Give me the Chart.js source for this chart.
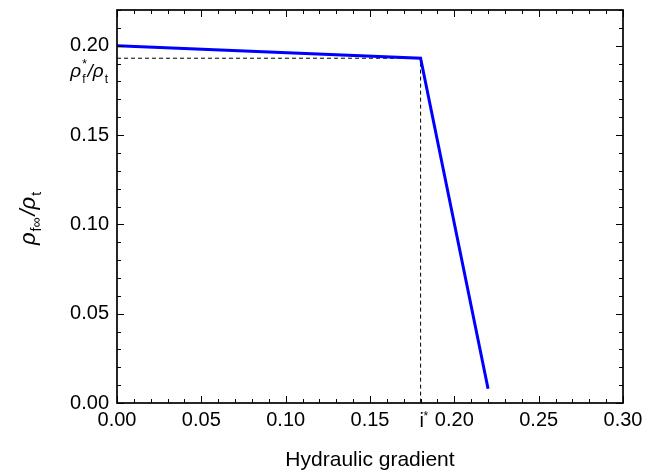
<!DOCTYPE html>
<html>
<head>
<meta charset="utf-8">
<script src="https://cdn.jsdelivr.net/npm/chart.js@4.4.0/dist/chart.umd.min.js"></script>
<style>
  html, body { margin: 0; padding: 0; background: #fff; }
  #wrap { width: 653px; height: 471px; }
</style>
</head>
<body>
<div id="wrap"><canvas id="chart" width="653" height="471"></canvas></div>
<script>
// rho_f_inf / rho_t against hydraulic gradient
const gradient = [0.00, 0.18, 0.22];
const ratio = [0.200, 0.193, 0.008];

// critical point: i* and rho_f* / rho_t
const iStar = 0.18;
const ratioStar = 0.193;

const xTicks = [0.00, 0.05, 0.10, 0.15, 0.20, 0.25, 0.30];
const yTicks = [0.00, 0.05, 0.10, 0.15, 0.20];
const xRange = [0, 0.30];
const yRange = [0, 0.22];
const minorStep = 0.01;

const FONT = "'Liberation Sans', Arial, Helvetica, sans-serif";

// pieces of text with sub/superscripts; "over" pieces sit on top of the previous one
function setFont(ctx, p) {
    ctx.font = (p.italic ? 'italic ' : '') + p.size + 'px ' + FONT;
}

function richWidth(ctx, parts) {
    let w = 0;
    parts.forEach(p => {
        if (p.over) return;
        setFont(ctx, p);
        w += ctx.measureText(p.t).width + (p.gap || 0);
    });
    return w;
}

function drawRich(ctx, parts, x, y) {
    ctx.textAlign = 'left';
    ctx.textBaseline = 'alphabetic';
    let lastX = x;
    parts.forEach(p => {
        setFont(ctx, p);
        if (p.over) {
            ctx.fillText(p.t, lastX + (p.dx || 0), y + (p.dy || 0));
            return;
        }
        ctx.fillText(p.t, x + (p.dx || 0), y + (p.dy || 0));
        lastX = x;
        x += ctx.measureText(p.t).width + (p.gap || 0);
    });
}

const framePlugin = {
    id: 'frame',
    afterDraw(chart) {
        const ctx = chart.ctx;
        const { left, right, top, bottom } = chart.chartArea;
        const xs = chart.scales.x;
        const ys = chart.scales.y;
        ctx.save();
        ctx.strokeStyle = '#000';
        ctx.fillStyle = '#000';

        // tick marks, inward, on all four sides
        ctx.lineWidth = 1;
        ctx.beginPath();
        const nx = Math.round((xRange[1] - xRange[0]) / minorStep);
        for (let k = 0; k <= nx; k++) {
            const len = k % 5 === 0 ? 7 : 4;
            const px = Math.round(xs.getPixelForValue(xRange[0] + k * minorStep)) + 0.5;
            ctx.moveTo(px, bottom); ctx.lineTo(px, bottom - len);
            ctx.moveTo(px, top); ctx.lineTo(px, top + len);
        }
        const ny = Math.round((yRange[1] - yRange[0]) / minorStep);
        for (let k = 0; k <= ny; k++) {
            const len = k % 5 === 0 ? 7 : 4;
            const py = Math.round(ys.getPixelForValue(yRange[0] + k * minorStep)) + 0.5;
            ctx.moveTo(left, py); ctx.lineTo(left + len, py);
            ctx.moveTo(right, py); ctx.lineTo(right - len, py);
        }
        ctx.stroke();

        // frame
        ctx.lineWidth = 1.7;
        ctx.strokeRect(left, top, right - left, bottom - top);

        // i* under the x axis
        const ix = xs.getPixelForValue(iStar);
        ctx.font = '20px ' + FONT;
        ctx.textAlign = 'center';
        ctx.textBaseline = 'alphabetic';
        ctx.fillText('i', ix + 1, bottom + 24);
        ctx.font = '12px ' + FONT;
        ctx.textAlign = 'left';
        ctx.fillText('*', ix + 3, bottom + 17);

        // rho_f* / rho_t beside the y axis
        const ry = ys.getPixelForValue(ratioStar);
        const starParts = [
            { t: 'ρ', size: 19, italic: true, gap: 1 },
            { t: 'f', size: 12, dy: 6, gap: 2 },
            { t: '*', size: 12, dy: -9, dx: 0, over: true },
            { t: '/', size: 19, italic: true, gap: 0 },
            { t: 'ρ', size: 19, italic: true, gap: 1 },
            { t: 't', size: 12, dy: 6 }
        ];
        const sw = richWidth(ctx, starParts);
        drawRich(ctx, starParts, left - 9 - sw, ry + 19);

        // y axis title
        const titleParts = [
            { t: 'ρ', size: 22, italic: true, gap: 1 },
            { t: 'f∞', size: 14, dy: 6, gap: 2 },
            { t: '/', size: 22, italic: true },
            { t: 'ρ', size: 22, italic: true, gap: 1 },
            { t: 't', size: 14, dy: 6 }
        ];
        const tw = richWidth(ctx, titleParts);
        ctx.translate(35, (top + bottom) / 2 + 12);
        ctx.rotate(-Math.PI / 2);
        drawRich(ctx, titleParts, -tw / 2, 0);
        ctx.restore();
    }
};

Chart.defaults.font.family = FONT;
Chart.defaults.color = '#000';

new Chart(document.getElementById('chart').getContext('2d'), {
    type: 'line',
    data: {
        datasets: [
            {
                data: gradient.map((g, i) => ({ x: g, y: ratio[i] })),
                borderColor: '#0000ff',
                borderWidth: 3,
                pointRadius: 0,
                tension: 0,
                fill: false
            },
            {
                data: [
                    { x: xRange[0], y: ratioStar },
                    { x: iStar, y: ratioStar },
                    { x: iStar, y: yRange[0] }
                ],
                borderColor: '#000',
                borderWidth: 1,
                borderDash: [4, 3],
                pointRadius: 0,
                tension: 0,
                fill: false
            }
        ]
    },
    options: {
        responsive: false,
        animation: false,
        layout: { padding: { left: 0, top: 10, right: 30, bottom: 0 } },
        plugins: {
            legend: { display: false },
            tooltip: { enabled: false }
        },
        scales: {
            x: {
                type: 'linear',
                min: xRange[0],
                max: xRange[1],
                afterBuildTicks: s => { s.ticks = xTicks.map(v => ({ value: v })); },
                afterFit: s => { s.height = 68; s.paddingLeft = 0; s.paddingRight = 0; },
                ticks: {
                    callback: v => v.toFixed(2),
                    font: { size: 20 },
                    padding: 5,
                    autoSkip: false,
                    maxRotation: 0
                },
                grid: { display: false, drawTicks: false },
                border: { display: false },
                title: {
                    display: true,
                    text: 'Hydraulic gradient',
                    font: { size: 21, lineHeight: 1 },
                    padding: { top: 0, bottom: 0 }
                }
            },
            y: {
                type: 'linear',
                min: yRange[0],
                max: yRange[1],
                afterBuildTicks: s => { s.ticks = yTicks.map(v => ({ value: v })); },
                afterFit: s => { s.width = 117; s.paddingTop = 0; s.paddingBottom = 0; },
                ticks: {
                    callback: v => v.toFixed(2),
                    font: { size: 20 },
                    padding: 8
                },
                grid: { display: false, drawTicks: false },
                border: { display: false }
            }
        }
    },
    plugins: [framePlugin]
});
</script>
</body>
</html>
